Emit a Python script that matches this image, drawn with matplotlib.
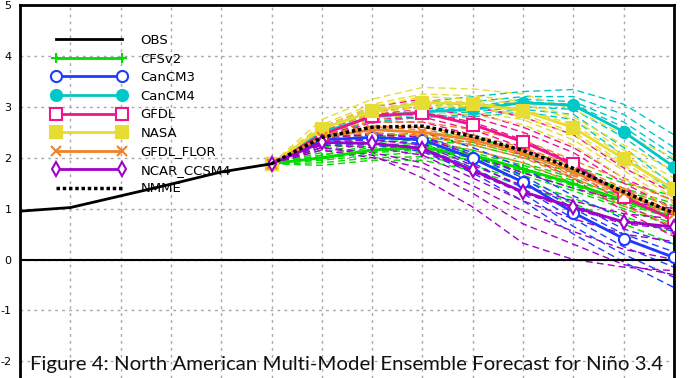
import numpy as np
import matplotlib
matplotlib.use('Agg')
import matplotlib.pyplot as plt

# 観測値 (lead index 0..5)
obs_x = [0, 1, 2, 3, 4, 5]
obs_y = [0.95, 1.02, 1.25, 1.48, 1.72, 1.88]

# 予測 (lead index 5..13)
fc_x = [5, 6, 7, 8, 9, 10, 11, 12, 13]

nmme_mean = [1.88, 2.40, 2.60, 2.62, 2.42, 2.14, 1.79, 1.33, 0.91]

cfsv2_mean = [1.88, 2.00, 2.15, 2.20, 2.05, 1.78, 1.49, 1.16, 0.82]
cancm3_mean = [1.88, 2.35, 2.40, 2.35, 1.99, 1.52, 0.92, 0.41, 0.04]
cancm4_mean = [1.88, 2.50, 2.80, 2.90, 2.95, 3.08, 3.03, 2.51, 1.82]
gfdl_mean = [1.88, 2.45, 2.82, 2.88, 2.65, 2.31, 1.87, 1.23, 0.77]
nasa_mean = [1.88, 2.57, 2.91, 3.08, 3.06, 2.92, 2.59, 1.98, 1.38]
flor_mean = [1.88, 2.40, 2.55, 2.50, 2.35, 2.10, 1.72, 1.30, 0.90]
ncar_mean = [1.88, 2.30, 2.28, 2.18, 1.75, 1.33, 1.03, 0.74, 0.64]

cfsv2_members = [
    [1.88, 2.20, 2.40, 2.50, 2.40, 2.15, 1.85, 1.50, 1.25],
    [1.88, 2.10, 2.30, 2.35, 2.25, 2.00, 1.70, 1.40, 1.10],
    [1.88, 2.05, 2.20, 2.25, 2.10, 1.85, 1.55, 1.25, 0.95],
    [1.88, 2.00, 2.12, 2.18, 2.02, 1.75, 1.45, 1.10, 0.80],
    [1.88, 1.95, 2.05, 2.10, 1.95, 1.65, 1.35, 1.00, 0.65],
    [1.88, 1.90, 2.00, 2.02, 1.85, 1.55, 1.20, 0.85, 0.50],
    [1.88, 1.85, 1.95, 1.95, 1.75, 1.45, 1.10, 0.70, 0.30],
    [1.88, 2.15, 2.35, 2.40, 2.30, 2.05, 1.75, 1.35, 1.05],
    [1.88, 1.98, 2.10, 2.15, 2.00, 1.72, 1.40, 1.05, 0.70],
    [1.88, 2.05, 2.25, 2.28, 2.15, 1.90, 1.60, 1.20, 0.90],
]
cancm3_members = [
    [1.88, 2.45, 2.55, 2.50, 2.20, 1.80, 1.25, 0.80, 0.55],
    [1.88, 2.40, 2.48, 2.42, 2.10, 1.65, 1.10, 0.60, 0.30],
    [1.88, 2.35, 2.40, 2.35, 2.00, 1.52, 0.92, 0.42, 0.05],
    [1.88, 2.30, 2.35, 2.28, 1.90, 1.40, 0.80, 0.25, -0.15],
    [1.88, 2.28, 2.30, 2.20, 1.80, 1.30, 0.65, 0.10, -0.35],
    [1.88, 2.25, 2.25, 2.12, 1.70, 1.15, 0.50, -0.05, -0.55],
    [1.88, 2.38, 2.45, 2.40, 2.05, 1.60, 1.00, 0.50, 0.15],
]
cancm4_members = [
    [1.88, 2.60, 2.95, 3.10, 3.20, 3.30, 3.34, 3.05, 2.45],
    [1.88, 2.55, 2.90, 3.00, 3.10, 3.20, 3.20, 2.85, 2.20],
    [1.88, 2.50, 2.80, 2.95, 3.00, 3.10, 3.05, 2.60, 1.95],
    [1.88, 2.45, 2.75, 2.85, 2.90, 3.00, 2.95, 2.40, 1.70],
    [1.88, 2.40, 2.70, 2.80, 2.85, 2.95, 2.85, 2.20, 1.45],
    [1.88, 2.45, 2.70, 2.80, 2.80, 2.90, 2.75, 2.05, 1.30],
    [1.88, 2.55, 2.85, 2.90, 3.00, 3.15, 3.10, 2.70, 2.05],
]
gfdl_members = [
    [1.88, 2.60, 3.00, 3.15, 3.00, 2.80, 2.45, 1.80, 1.30],
    [1.88, 2.50, 2.90, 3.00, 2.80, 2.50, 2.10, 1.50, 1.00],
    [1.88, 2.45, 2.85, 2.90, 2.70, 2.35, 1.90, 1.25, 0.80],
    [1.88, 2.40, 2.75, 2.80, 2.55, 2.20, 1.75, 1.10, 0.60],
    [1.88, 2.35, 2.70, 2.70, 2.45, 2.05, 1.60, 0.95, 0.45],
    [1.88, 2.50, 2.85, 2.95, 2.90, 2.60, 2.20, 1.60, 1.15],
]
nasa_members = [
    [1.88, 2.75, 3.15, 3.38, 3.35, 3.25, 2.95, 2.45, 2.00],
    [1.88, 2.65, 3.05, 3.25, 3.22, 3.10, 2.80, 2.25, 1.75],
    [1.88, 2.60, 2.95, 3.12, 3.10, 2.95, 2.65, 2.05, 1.50],
    [1.88, 2.55, 2.88, 3.00, 3.00, 2.85, 2.50, 1.90, 1.30],
    [1.88, 2.50, 2.80, 2.95, 2.90, 2.75, 2.35, 1.75, 1.10],
    [1.88, 2.45, 2.75, 2.88, 2.85, 2.65, 2.25, 1.60, 0.95],
    [1.88, 2.60, 3.00, 3.20, 3.15, 3.05, 2.75, 2.15, 1.60],
    [1.88, 2.50, 2.85, 3.05, 3.00, 2.80, 2.45, 1.85, 1.20],
]
flor_members = [
    [1.88, 2.50, 2.70, 2.70, 2.55, 2.35, 1.95, 1.55, 1.15],
    [1.88, 2.45, 2.62, 2.60, 2.45, 2.20, 1.85, 1.40, 1.00],
    [1.88, 2.40, 2.55, 2.50, 2.35, 2.10, 1.72, 1.30, 0.90],
    [1.88, 2.35, 2.50, 2.42, 2.25, 2.00, 1.60, 1.20, 0.80],
    [1.88, 2.30, 2.45, 2.35, 2.15, 1.90, 1.50, 1.05, 0.65],
    [1.88, 2.40, 2.60, 2.55, 2.40, 2.15, 1.80, 1.35, 0.95],
    [1.88, 2.35, 2.48, 2.45, 2.30, 2.05, 1.65, 1.25, 0.85],
]
ncar_members = [
    [1.88, 2.40, 2.45, 2.40, 2.05, 1.70, 1.40, 1.15, 1.00],
    [1.88, 2.35, 2.35, 2.25, 1.85, 1.45, 1.15, 0.90, 0.80],
    [1.88, 2.30, 2.28, 2.15, 1.72, 1.30, 1.00, 0.70, 0.60],
    [1.88, 2.25, 2.20, 2.05, 1.60, 1.15, 0.80, 0.50, 0.35],
    [1.88, 2.20, 2.10, 1.90, 1.45, 0.95, 0.55, 0.20, 0.00],
    [1.88, 2.20, 2.05, 1.60, 1.03, 0.32, 0.00, -0.15, -0.22],
    [1.88, 2.15, 2.00, 1.80, 1.30, 0.70, 0.30, -0.10, -0.30],
]

y_ticks = [-2, -1, 0, 1, 2, 3, 4, 5]

# モデルごとのスタイル
models = [
    ('CFSv2', cfsv2_mean, cfsv2_members, '#00dc00', '+', '#00dc00'),
    ('CanCM3', cancm3_mean, cancm3_members, '#1e3cff', 'o', 'white'),
    ('CanCM4', cancm4_mean, cancm4_members, '#00c8c8', 'o', '#00c8c8'),
    ('GFDL', gfdl_mean, gfdl_members, '#f0148c', 's', 'white'),
    ('NASA', nasa_mean, nasa_members, '#e6dc32', 's', '#e6dc32'),
    ('GFDL_FLOR', flor_mean, flor_members, '#f08228', 'x', '#f08228'),
    ('NCAR_CCSM4', ncar_mean, ncar_members, '#a000c8', 'd', 'white'),
]

fig = plt.figure(figsize=(6.93, 3.78), dpi=100)
ax = fig.add_axes([20/693, 0, 654/693, 373/378])

# メンバー (細い破線)
for name, mean, members, col, mk, fc in models:
    for m in members:
        ax.plot(fc_x, m, color=col, lw=1.0, ls=(0, (5, 3)), zorder=2)

handles = []
obs_line, = ax.plot(obs_x, obs_y, color='black', lw=2, zorder=5)
handles.append(obs_line)

for name, mean, members, col, mk, fc in models:
    ms = 8 if mk in 'os' else 7
    h, = ax.plot(fc_x, mean, color=col, lw=2, marker=mk, ms=ms,
                 mfc=fc, mec=col, mew=1.5, zorder=4, label=name)
    handles.append(h)

nmme_line, = ax.plot(fc_x, nmme_mean, color='black', lw=2.5,
                     ls=(0, (1, 0.8)), zorder=6)
handles.append(nmme_line)

ax.axhline(0, color='black', lw=1.5, zorder=3)

ax.set_xlim(0, 13)
ax.set_ylim(5 - 373/50.9, 5)
ax.set_xticks(range(0, 14))
ax.set_yticks(y_ticks)
ax.set_xticklabels([])
ax.set_yticklabels([str(v) for v in y_ticks], fontsize=8)
ax.tick_params(length=0, pad=6)
ax.grid(True, color='#a8a8a8', ls=(0, (2, 3)), lw=1)
ax.set_axisbelow(True)
for s in ['left', 'right', 'top']:
    ax.spines[s].set_linewidth(2)
ax.spines['bottom'].set_visible(False)

labels = ['OBS', 'CFSv2', 'CanCM3', 'CanCM4', 'GFDL', 'NASA',
          'GFDL_FLOR', 'NCAR_CCSM4', 'NMME']
leg = ax.legend(handles, labels, loc='upper left',
                bbox_to_anchor=(52/693, 1 - 34/378), bbox_transform=fig.transFigure,
                frameon=False, numpoints=2, handlelength=5.6, handletextpad=1.1,
                labelspacing=0.42, borderpad=0, borderaxespad=0,
                prop={'size': 9.5})

# キャプション: 幅 633px に合わせる
cap = fig.text(30/693, 5/378,
               'Figure 4: North American Multi-Model Ensemble Forecast for Niño 3.4',
               fontsize=16, family='Lato', color='#111111', ha='left', va='bottom')
fig.canvas.draw()
w = cap.get_window_extent().width
cap.set_fontsize(16 * 633 / w)

fig.savefig('out.png', dpi=100)
